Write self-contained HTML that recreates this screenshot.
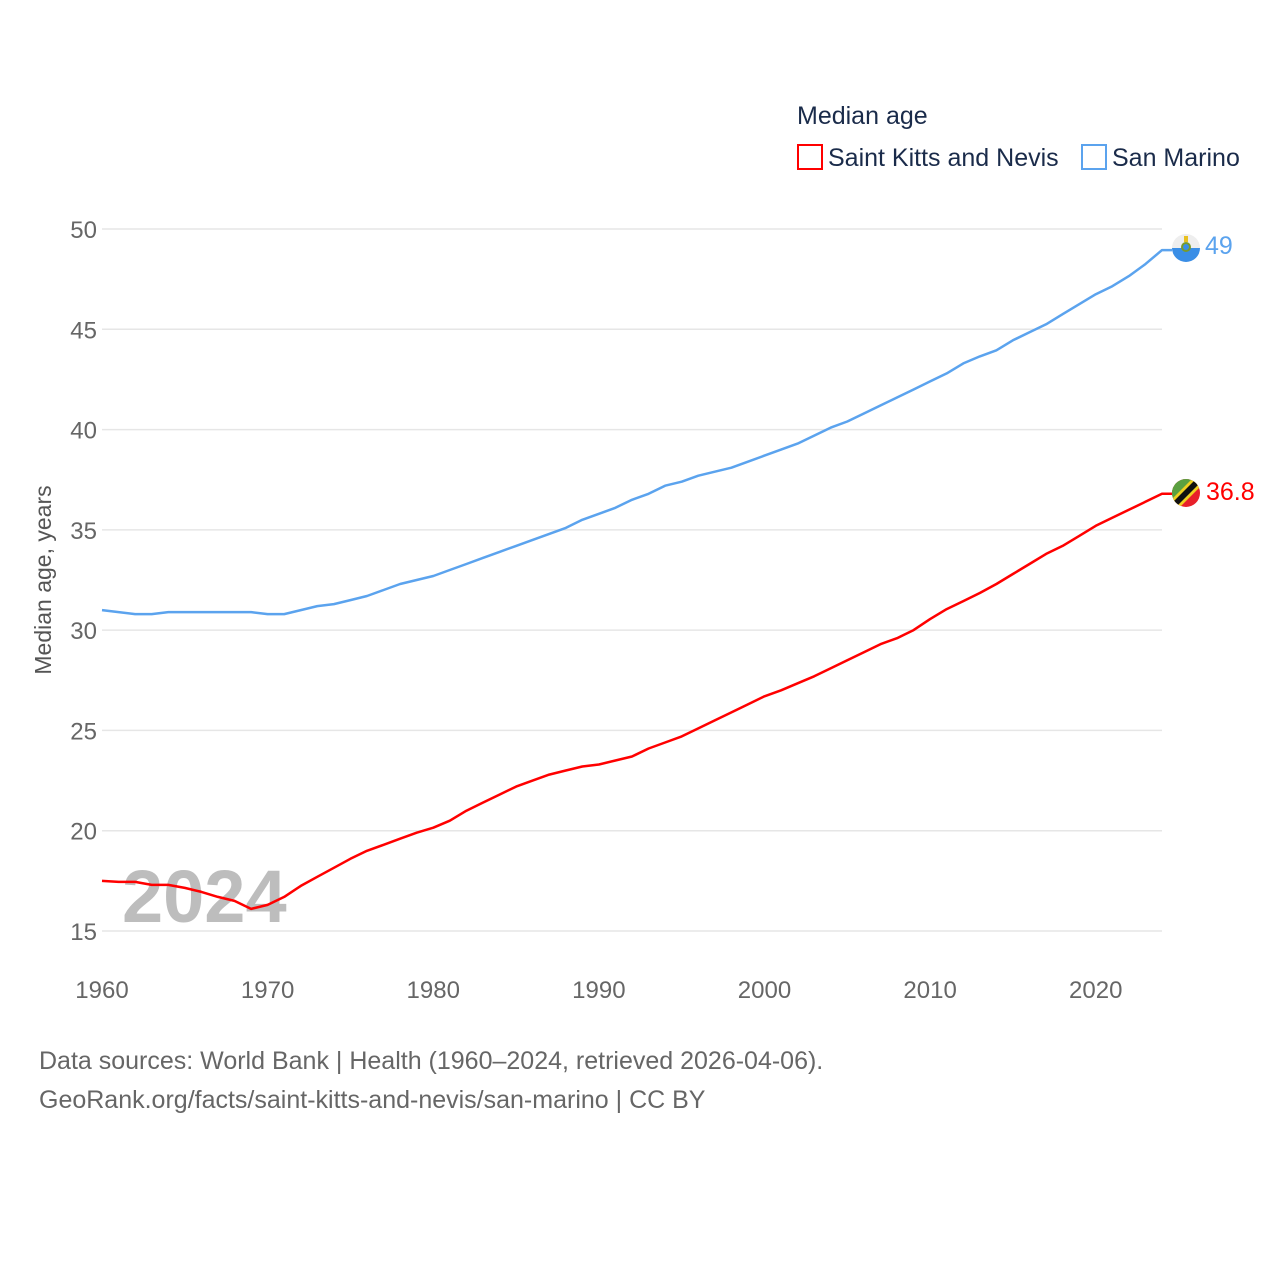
<!DOCTYPE html>
<html><head><meta charset="utf-8"><style>
body{margin:0;background:#fff;width:1280px;height:1280px;overflow:hidden;font-family:"Liberation Sans",sans-serif}
</style></head><body>
<svg id="chart" width="1280" height="1280" xmlns="http://www.w3.org/2000/svg" font-family="Liberation Sans, sans-serif">
<text x="797" y="124" font-size="25" fill="#1a2b4a">Median age</text>
<g><rect x="798" y="145" width="24" height="24" fill="none" stroke="#ff0000" stroke-width="2"/><text x="828" y="166" font-size="25" fill="#1a2b4a">Saint Kitts and Nevis</text></g>
<g><rect x="1082" y="145" width="24" height="24" fill="none" stroke="#5ba3ee" stroke-width="2"/><text x="1112" y="166" font-size="25" fill="#1a2b4a">San Marino</text></g>
<g id="grid"></g>
<text x="122" y="922" font-size="74" font-weight="bold" fill="#bdbdbd">2024</text>
<g id="lines"></g>
<text transform="translate(51,580) rotate(-90)" text-anchor="middle" font-size="23" fill="#555">Median age, years</text>
<g>
<circle cx="1186" cy="248" r="14" fill="#eeeeee"/><path d="M1172,248 A14,14 0 0 0 1200,248 Z" fill="#3a8ee6"/><circle cx="1186" cy="247" r="5" fill="#7a9a2a"/><circle cx="1186" cy="247" r="3" fill="#3a8ee6"/><rect x="1184" y="236" width="4" height="6" fill="#e8c020"/>
<text x="1205" y="254" font-size="25" fill="#5ba3ee">49</text></g>
<g>
<clipPath id="kc"><circle cx="1186" cy="493" r="14"/></clipPath>
<g clip-path="url(#kc)"><rect x="1170" y="477" width="32" height="32" fill="#e8202a"/><path d="M1170,477 L1202,477 L1170,509 Z" fill="#5aa040"/><path d="M1166,505 L1198,473 L1206,481 L1174,513 Z" fill="#f0d020"/><path d="M1168,507 L1200,475 L1204,479 L1172,511 Z" fill="#111"/></g>
<text x="1206" y="500" font-size="25" fill="#ff0000">36.8</text></g>
<text x="39" y="1069" font-size="25" fill="#666">Data sources: World Bank | Health (1960–2024, retrieved 2026-04-06).</text>
<text x="39" y="1108" font-size="25" fill="#666">GeoRank.org/facts/saint-kitts-and-nevis/san-marino | CC BY</text>
</svg>
<script>
const years=[];for(let y=1960;y<=2024;y++)years.push(y);
const kittsValues=[17.5,17.45,17.45,17.3,17.3,17.15,16.95,16.7,16.5,16.1,16.3,16.7,17.25,17.7,18.15,18.6,19.0,19.3,19.6,19.9,20.15,20.5,21.0,21.4,21.8,22.2,22.5,22.8,23.0,23.2,23.3,23.5,23.7,24.1,24.4,24.7,25.1,25.5,25.9,26.3,26.7,27.0,27.35,27.7,28.1,28.5,28.9,29.3,29.6,30.0,30.55,31.05,31.45,31.85,32.3,32.8,33.3,33.8,34.2,34.7,35.2,35.6,36.0,36.4,36.8];
const sanMarinoValues=[31.0,30.9,30.8,30.8,30.9,30.9,30.9,30.9,30.9,30.9,30.8,30.8,31.0,31.2,31.3,31.5,31.7,32.0,32.3,32.5,32.7,33.0,33.3,33.6,33.9,34.2,34.5,34.8,35.1,35.5,35.8,36.1,36.5,36.8,37.2,37.4,37.7,37.9,38.1,38.4,38.7,39.0,39.3,39.7,40.1,40.4,40.8,41.2,41.6,42.0,42.4,42.8,43.3,43.65,43.95,44.45,44.85,45.25,45.75,46.25,46.75,47.15,47.65,48.25,48.95];
const yTicks=[15,20,25,30,35,40,45,50];
const xTicks=[1960,1970,1980,1990,2000,2010,2020];
const NS="http://www.w3.org/2000/svg";
const xS=y=>102+(y-1960)*(1162-102)/64;
const yS=v=>931-(v-15)*(931-229)/35;
const grid=document.getElementById('grid'),lines=document.getElementById('lines');
function mk(t,a,p){const e=document.createElementNS(NS,t);for(const k in a)e.setAttribute(k,a[k]);p.appendChild(e);return e;}
yTicks.forEach(v=>{
 const l=mk('line',{x1:102,x2:1162,y1:yS(v),y2:yS(v),stroke:'#e6e6e6','stroke-width':1.5},grid);
 
 
 const t=mk('text',{x:97,y:yS(v)+9,'text-anchor':'end','font-size':24,fill:'#666'},grid);t.textContent=v;
 
 
});
xTicks.forEach(y=>{
 const t=mk('text',{x:xS(y),y:998,'text-anchor':'middle','font-size':24,fill:'#666'},grid);t.textContent=y;
 
 
});
function line(vals,color,name){
 let d=vals.map((v,i)=>(i?'L':'M')+xS(years[i]).toFixed(1)+','+yS(v).toFixed(1)).join(' ');
 d+=' L1172,'+yS(vals[vals.length-1]).toFixed(1);
 const p=mk('path',{d:d,fill:'none',stroke:color,'stroke-width':2.5,'stroke-linejoin':'round'},lines);
 
 
}
line(sanMarinoValues,'#5ba3ee','line-san-marino');
line(kittsValues,'#ff0000','line-saint-kitts');
</script>
</body></html>
